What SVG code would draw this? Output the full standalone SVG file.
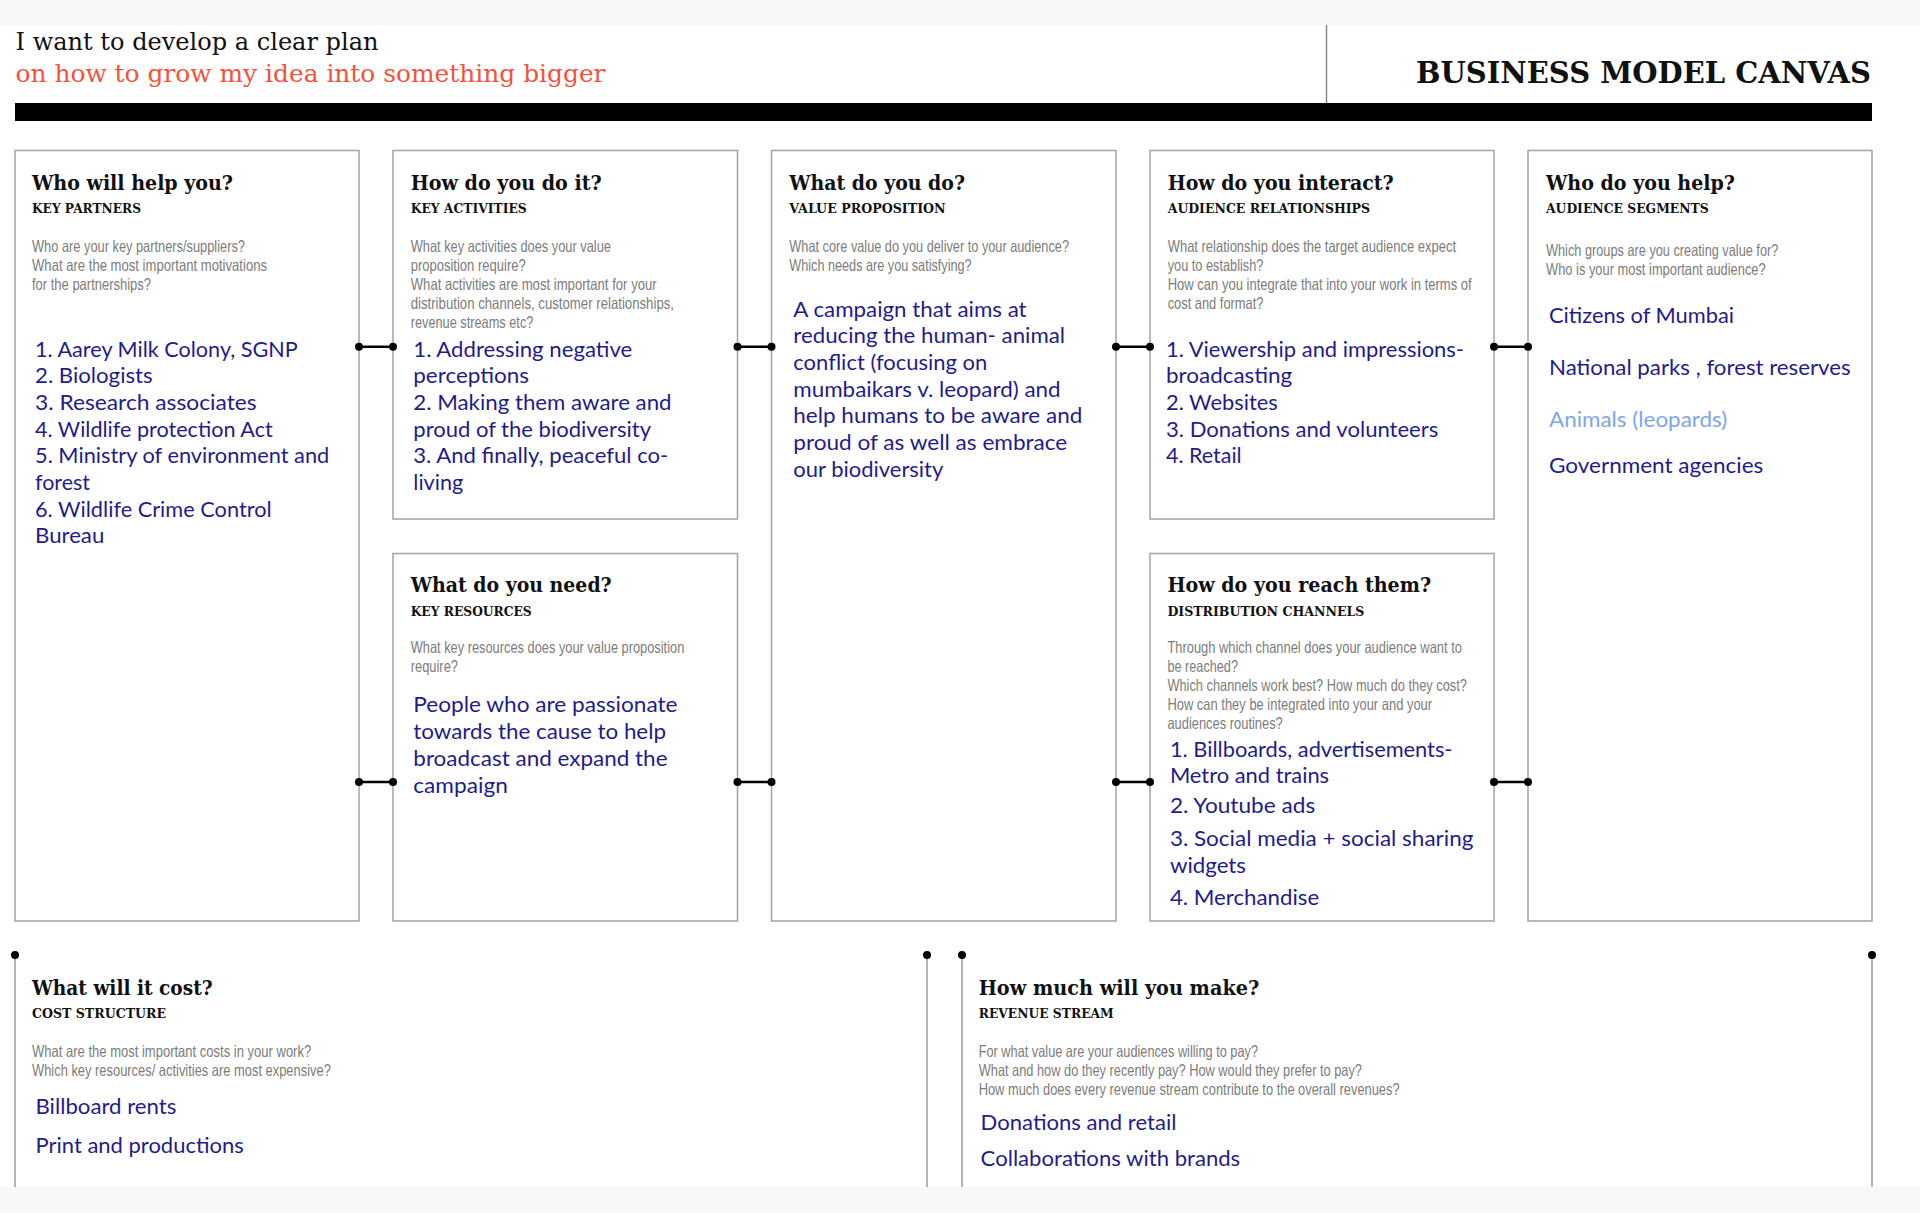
<svg xmlns="http://www.w3.org/2000/svg" width="1920" height="1213" viewBox="0 0 1920 1213">
<style>
.box{fill:#fff;stroke:#a3a3a3;stroke-width:1.5}
.t{font-family:"DejaVu Serif",serif;font-weight:bold;font-size:21px;fill:#111}
.s{font-family:"DejaVu Serif",serif;font-weight:bold;font-size:13.5px;fill:#111}
.q{font-family:"Liberation Sans Narrow","Liberation Sans",sans-serif;font-size:16.5px;fill:#7c7c7c}
.b{font-family:Lato,"Open Sans",sans-serif;font-size:21px;fill:#1f1c8c}
.lb{fill:#7ea6e8}
.conn{stroke:#000;stroke-width:2.5}
.vl{stroke:#9a9a9a;stroke-width:1.5}
.dot{fill:#000}
</style>
<rect x="0" y="0" width="1920" height="1213" fill="#fff"/>
<rect x="0" y="0" width="1920" height="25" fill="#f8f8f8"/>
<rect x="0" y="1187" width="1920" height="26" fill="#f8f8f8"/>

<g id="header">
<text x="15.5" y="50" font-family="DejaVu Serif, serif" font-size="25" fill="#111" textLength="363" lengthAdjust="spacingAndGlyphs">I want to develop a clear plan</text>
<text x="15.5" y="81.5" font-family="DejaVu Serif, serif" font-size="25" fill="#f4533a" textLength="590" lengthAdjust="spacingAndGlyphs">on how to grow my idea into something bigger</text>
<line x1="1326.5" y1="25" x2="1326.5" y2="103" stroke="#888" stroke-width="1.5"/>
<text x="1871" y="83.3" text-anchor="end" font-family="DejaVu Serif, serif" font-weight="bold" font-size="30" fill="#111" textLength="455" lengthAdjust="spacingAndGlyphs">BUSINESS MODEL CANVAS</text>
<rect x="15" y="103" width="1857" height="18" fill="#000"/>
</g>

<g id="key-partners">
<rect class="box" x="15" y="150.5" width="344" height="770.5"/>
<text class="t" x="32" y="190" textLength="201" lengthAdjust="spacingAndGlyphs">Who will help you?</text>
<text class="s" x="32" y="213.3" textLength="109" lengthAdjust="spacingAndGlyphs">KEY PARTNERS</text>
<text class="q" x="32" y="251.7" textLength="213" lengthAdjust="spacingAndGlyphs">Who are your key partners/suppliers?</text>
<text class="q" x="32" y="270.7" textLength="235" lengthAdjust="spacingAndGlyphs">What are the most important motivations</text>
<text class="q" x="32" y="289.7" textLength="119" lengthAdjust="spacingAndGlyphs">for the partnerships?</text>
<text class="b" x="35" y="356.7" textLength="262.7" lengthAdjust="spacingAndGlyphs">1. Aarey Milk Colony, SGNP</text>
<text class="b" x="35" y="383.3" textLength="117.7" lengthAdjust="spacingAndGlyphs">2. Biologists</text>
<text class="b" x="35" y="410" textLength="221.7" lengthAdjust="spacingAndGlyphs">3. Research associates</text>
<text class="b" x="35" y="436.7" textLength="237.7" lengthAdjust="spacingAndGlyphs">4. Wildlife protection Act</text>
<text class="b" x="35" y="463.3" textLength="294.3" lengthAdjust="spacingAndGlyphs">5. Ministry of environment and</text>
<text class="b" x="35" y="490" textLength="55" lengthAdjust="spacingAndGlyphs">forest</text>
<text class="b" x="35" y="516.7" textLength="236.7" lengthAdjust="spacingAndGlyphs">6. Wildlife Crime Control</text>
<text class="b" x="35" y="543.3" textLength="69.3" lengthAdjust="spacingAndGlyphs">Bureau</text>
</g>

<g id="key-activities">
<rect class="box" x="393" y="150.5" width="344.5" height="368.5"/>
<text class="t" x="410.7" y="190" textLength="191" lengthAdjust="spacingAndGlyphs">How do you do it?</text>
<text class="s" x="410.7" y="213.3" textLength="116" lengthAdjust="spacingAndGlyphs">KEY ACTIVITIES</text>
<text class="q" x="410.7" y="251.7" textLength="200.3" lengthAdjust="spacingAndGlyphs">What key activities does your value</text>
<text class="q" x="410.7" y="270.7" textLength="115" lengthAdjust="spacingAndGlyphs">proposition require?</text>
<text class="q" x="410.7" y="289.7" textLength="246" lengthAdjust="spacingAndGlyphs">What activities are most important for your</text>
<text class="q" x="410.7" y="308.7" textLength="263.3" lengthAdjust="spacingAndGlyphs">distribution channels, customer relationships,</text>
<text class="q" x="410.7" y="327.7" textLength="122.7" lengthAdjust="spacingAndGlyphs">revenue streams etc?</text>
<text class="b" x="413.3" y="356.7" textLength="219" lengthAdjust="spacingAndGlyphs">1. Addressing negative</text>
<text class="b" x="413.3" y="383.3" textLength="115.7" lengthAdjust="spacingAndGlyphs">perceptions</text>
<text class="b" x="413.3" y="410" textLength="258.3" lengthAdjust="spacingAndGlyphs">2. Making them aware and</text>
<text class="b" x="413.3" y="436.7" textLength="237.7" lengthAdjust="spacingAndGlyphs">proud of the biodiversity</text>
<text class="b" x="413.3" y="463.3" textLength="255" lengthAdjust="spacingAndGlyphs">3. And finally, peaceful co-</text>
<text class="b" x="413.3" y="490" textLength="50" lengthAdjust="spacingAndGlyphs">living</text>
</g>

<g id="key-resources">
<rect class="box" x="393" y="553.5" width="344.5" height="367.5"/>
<text class="t" x="410.7" y="591.7" textLength="201" lengthAdjust="spacingAndGlyphs">What do you need?</text>
<text class="s" x="410.7" y="616" textLength="121" lengthAdjust="spacingAndGlyphs">KEY RESOURCES</text>
<text class="q" x="410.7" y="653.3" textLength="273.6" lengthAdjust="spacingAndGlyphs">What key resources does your value proposition</text>
<text class="q" x="410.7" y="672.3" textLength="47.3" lengthAdjust="spacingAndGlyphs">require?</text>
<text class="b" x="413.3" y="711.7" textLength="264.2" lengthAdjust="spacingAndGlyphs">People who are passionate</text>
<text class="b" x="413.3" y="739" textLength="252.7" lengthAdjust="spacingAndGlyphs">towards the cause to help</text>
<text class="b" x="413.3" y="766" textLength="254.2" lengthAdjust="spacingAndGlyphs">broadcast and expand the</text>
<text class="b" x="413.3" y="792.7" textLength="94.5" lengthAdjust="spacingAndGlyphs">campaign</text>
</g>

<g id="value-proposition">
<rect class="box" x="771.5" y="150.5" width="344.5" height="770.5"/>
<text class="t" x="789.3" y="190" textLength="175.7" lengthAdjust="spacingAndGlyphs">What do you do?</text>
<text class="s" x="789.3" y="213.3" textLength="156.3" lengthAdjust="spacingAndGlyphs">VALUE PROPOSITION</text>
<text class="q" x="789.3" y="251.7" textLength="279.7" lengthAdjust="spacingAndGlyphs">What core value do you deliver to your audience?</text>
<text class="q" x="789.3" y="270.7" textLength="182.3" lengthAdjust="spacingAndGlyphs">Which needs are you satisfying?</text>
<text class="b" x="793.3" y="316.7" textLength="233.3" lengthAdjust="spacingAndGlyphs">A campaign that aims at</text>
<text class="b" x="793.3" y="343.3" textLength="271.7" lengthAdjust="spacingAndGlyphs">reducing the human- animal</text>
<text class="b" x="793.3" y="370" textLength="194" lengthAdjust="spacingAndGlyphs">conflict (focusing on</text>
<text class="b" x="793.3" y="396.7" textLength="267.3" lengthAdjust="spacingAndGlyphs">mumbaikars v. leopard) and</text>
<text class="b" x="793.3" y="423.3" textLength="289" lengthAdjust="spacingAndGlyphs">help humans to be aware and</text>
<text class="b" x="793.3" y="450" textLength="274" lengthAdjust="spacingAndGlyphs">proud of as well as embrace</text>
<text class="b" x="793.3" y="476.7" textLength="150" lengthAdjust="spacingAndGlyphs">our biodiversity</text>
</g>

<g id="audience-relationships">
<rect class="box" x="1150" y="150.5" width="344" height="368.5"/>
<text class="t" x="1167.7" y="190" textLength="226" lengthAdjust="spacingAndGlyphs">How do you interact?</text>
<text class="s" x="1167.7" y="213.3" textLength="202.3" lengthAdjust="spacingAndGlyphs">AUDIENCE RELATIONSHIPS</text>
<text class="q" x="1167.7" y="251.7" textLength="288.3" lengthAdjust="spacingAndGlyphs">What relationship does the target audience expect</text>
<text class="q" x="1167.7" y="270.7" textLength="95.7" lengthAdjust="spacingAndGlyphs">you to establish?</text>
<text class="q" x="1167.7" y="289.7" textLength="304" lengthAdjust="spacingAndGlyphs">How can you integrate that into your work in terms of</text>
<text class="q" x="1167.7" y="308.7" textLength="95.7" lengthAdjust="spacingAndGlyphs">cost and format?</text>
<text class="b" x="1166" y="356.7" textLength="298" lengthAdjust="spacingAndGlyphs">1. Viewership and impressions-</text>
<text class="b" x="1166" y="383.3" textLength="126.3" lengthAdjust="spacingAndGlyphs">broadcasting</text>
<text class="b" x="1166" y="410" textLength="111.7" lengthAdjust="spacingAndGlyphs">2. Websites</text>
<text class="b" x="1166" y="436.7" textLength="272.3" lengthAdjust="spacingAndGlyphs">3. Donations and volunteers</text>
<text class="b" x="1166" y="463.3" textLength="75.7" lengthAdjust="spacingAndGlyphs">4. Retail</text>
</g>

<g id="distribution-channels">
<rect class="box" x="1150" y="553.5" width="344" height="367.5"/>
<text class="t" x="1167.4" y="591.7" textLength="263.7" lengthAdjust="spacingAndGlyphs">How do you reach them?</text>
<text class="s" x="1167.4" y="616" textLength="197" lengthAdjust="spacingAndGlyphs">DISTRIBUTION CHANNELS</text>
<text class="q" x="1167.4" y="653.3" textLength="294.5" lengthAdjust="spacingAndGlyphs">Through which channel does your audience want to</text>
<text class="q" x="1167.4" y="672.3" textLength="70.6" lengthAdjust="spacingAndGlyphs">be reached?</text>
<text class="q" x="1167.4" y="691.3" textLength="299.5" lengthAdjust="spacingAndGlyphs">Which channels work best? How much do they cost?</text>
<text class="q" x="1167.4" y="710.3" textLength="264.7" lengthAdjust="spacingAndGlyphs">How can they be integrated into your and your</text>
<text class="q" x="1167.4" y="729.3" textLength="115.4" lengthAdjust="spacingAndGlyphs">audiences routines?</text>
<text class="b" x="1169.9" y="756.7" textLength="282.6" lengthAdjust="spacingAndGlyphs">1. Billboards, advertisements-</text>
<text class="b" x="1169.9" y="783.3" textLength="159.2" lengthAdjust="spacingAndGlyphs">Metro and trains</text>
<text class="b" x="1169.9" y="813.3" textLength="145.3" lengthAdjust="spacingAndGlyphs">2. Youtube ads</text>
<text class="b" x="1169.9" y="846" textLength="303.5" lengthAdjust="spacingAndGlyphs">3. Social media + social sharing</text>
<text class="b" x="1169.9" y="872.7" textLength="76.1" lengthAdjust="spacingAndGlyphs">widgets</text>
<text class="b" x="1169.9" y="905" textLength="149.3" lengthAdjust="spacingAndGlyphs">4. Merchandise</text>
</g>

<g id="audience-segments">
<rect class="box" x="1528" y="150.5" width="344" height="770.5"/>
<text class="t" x="1546" y="190" textLength="189" lengthAdjust="spacingAndGlyphs">Who do you help?</text>
<text class="s" x="1546" y="213.3" textLength="162.7" lengthAdjust="spacingAndGlyphs">AUDIENCE SEGMENTS</text>
<text class="q" x="1546" y="255.7" textLength="232.3" lengthAdjust="spacingAndGlyphs">Which groups are you creating value for?</text>
<text class="q" x="1546" y="274.7" textLength="219.7" lengthAdjust="spacingAndGlyphs">Who is your most important audience?</text>
<text class="b" x="1549" y="323.3" textLength="185" lengthAdjust="spacingAndGlyphs">Citizens of Mumbai</text>
<text class="b" x="1549" y="375" textLength="301.7" lengthAdjust="spacingAndGlyphs">National parks , forest reserves</text>
<text class="b lb" x="1549" y="426.7" textLength="178.3" lengthAdjust="spacingAndGlyphs">Animals (leopards)</text>
<text class="b" x="1549" y="473.3" textLength="214.3" lengthAdjust="spacingAndGlyphs">Government agencies</text>
</g>

<g id="cost-structure">
<text class="t" x="32" y="995" textLength="180.6" lengthAdjust="spacingAndGlyphs">What will it cost?</text>
<text class="s" x="32" y="1018.3" textLength="134" lengthAdjust="spacingAndGlyphs">COST STRUCTURE</text>
<text class="q" x="32" y="1056.7" textLength="279.2" lengthAdjust="spacingAndGlyphs">What are the most important costs in your work?</text>
<text class="q" x="32" y="1075.7" textLength="298.8" lengthAdjust="spacingAndGlyphs">Which key resources/ activities are most expensive?</text>
<text class="b" x="35.5" y="1114" textLength="140.8" lengthAdjust="spacingAndGlyphs">Billboard rents</text>
<text class="b" x="35.5" y="1152.7" textLength="208.2" lengthAdjust="spacingAndGlyphs">Print and productions</text>
</g>

<g id="revenue-stream">
<text class="t" x="978.7" y="995" textLength="280.6" lengthAdjust="spacingAndGlyphs">How much will you make?</text>
<text class="s" x="978.7" y="1018.3" textLength="135" lengthAdjust="spacingAndGlyphs">REVENUE STREAM</text>
<text class="q" x="978.7" y="1056.7" textLength="279.3" lengthAdjust="spacingAndGlyphs">For what value are your audiences willing to pay?</text>
<text class="q" x="978.7" y="1075.7" textLength="383.3" lengthAdjust="spacingAndGlyphs">What and how do they recently pay? How would they prefer to pay?</text>
<text class="q" x="978.7" y="1094.7" textLength="420.9" lengthAdjust="spacingAndGlyphs">How much does every revenue stream contribute to the overall revenues?</text>
<text class="b" x="980.6" y="1130" textLength="195.8" lengthAdjust="spacingAndGlyphs">Donations and retail</text>
<text class="b" x="980.6" y="1165.7" textLength="259.6" lengthAdjust="spacingAndGlyphs">Collaborations with brands</text>
</g>

<g id="connectors">
<line class="conn" x1="359" y1="346.7" x2="393" y2="346.7"/>
<line class="conn" x1="737.5" y1="346.7" x2="771.5" y2="346.7"/>
<line class="conn" x1="1116" y1="346.7" x2="1150" y2="346.7"/>
<line class="conn" x1="1494" y1="346.7" x2="1528" y2="346.7"/>
<line class="conn" x1="359" y1="782" x2="393" y2="782"/>
<line class="conn" x1="737.5" y1="782" x2="771.5" y2="782"/>
<line class="conn" x1="1116" y1="782" x2="1150" y2="782"/>
<line class="conn" x1="1494" y1="782" x2="1528" y2="782"/>
<g class="dot">
<circle cx="359" cy="346.7" r="4"/><circle cx="393" cy="346.7" r="4"/>
<circle cx="737.5" cy="346.7" r="4"/><circle cx="771.5" cy="346.7" r="4"/>
<circle cx="1116" cy="346.7" r="4"/><circle cx="1150" cy="346.7" r="4"/>
<circle cx="1494" cy="346.7" r="4"/><circle cx="1528" cy="346.7" r="4"/>
<circle cx="359" cy="782" r="4"/><circle cx="393" cy="782" r="4"/>
<circle cx="737.5" cy="782" r="4"/><circle cx="771.5" cy="782" r="4"/>
<circle cx="1116" cy="782" r="4"/><circle cx="1150" cy="782" r="4"/>
<circle cx="1494" cy="782" r="4"/><circle cx="1528" cy="782" r="4"/>
</g>
<line class="vl" x1="15" y1="955" x2="15" y2="1187"/>
<line class="vl" x1="927" y1="955" x2="927" y2="1187"/>
<line class="vl" x1="962" y1="955" x2="962" y2="1187"/>
<line class="vl" x1="1872" y1="955" x2="1872" y2="1187"/>
<g class="dot">
<circle cx="15" cy="955" r="4"/><circle cx="927" cy="955" r="4"/>
<circle cx="962" cy="955" r="4"/><circle cx="1872" cy="955" r="4"/>
</g>
</g>
</svg>
